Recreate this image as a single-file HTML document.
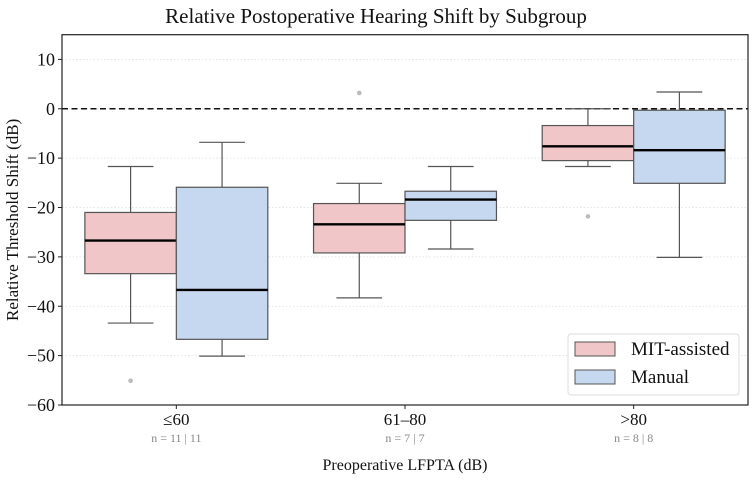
<!DOCTYPE html>
<html><head><meta charset="utf-8"><style>
body{margin:0;background:#fff}
text{font-family:"Liberation Serif",serif}
</style></head><body>
<svg id="chart" width="753" height="480" xmlns="http://www.w3.org/2000/svg"></svg>
<script>
const categories=["≤60","61–80",">80"];
const nLabels=["n = 11 | 11","n = 7 | 7","n = 8 | 8"];
const seriesNames=["MIT-assisted","Manual"];
const mitWhiskLo=[-43.4,-38.3,-11.7];
const mitQ1=[-33.4,-29.2,-10.5];
const mitMedian=[-26.7,-23.4,-7.6];
const mitQ3=[-21.0,-19.2,-3.4];
const mitWhiskHi=[-11.7,-15.1,0];
const mitOutliers=[[-55.1],[3.2],[-21.8]];
const manWhiskLo=[-50.1,-28.4,-30.1];
const manQ1=[-46.7,-22.6,-15.1];
const manMedian=[-36.7,-18.4,-8.4];
const manQ3=[-15.9,-16.7,-0.3];
const manWhiskHi=[-6.8,-11.7,3.4];
const manOutliers=[[],[],[]];
const yTicks=[10,0,-10,-20,-30,-40,-50,-60];

const L=62,R=748,T=34.7,B=405,ymin=-60,ymax=15;
const y=v=>B-(v-ymin)/(ymax-ymin)*(B-T);
const x=i=>L+(i+0.5)/3*(R-L);
const unit=(R-L)/3;
const svg=document.getElementById('chart');
const NS="http://www.w3.org/2000/svg";
function el(t,a,p){const e=document.createElementNS(NS,t);for(const k in a)e.setAttribute(k,a[k]);(p||svg).appendChild(e);return e;}

let t=el('text',{x:376,y:23,'text-anchor':'middle','font-size':21,fill:'#111'});t.textContent="Relative Postoperative Hearing Shift by Subgroup";



yTicks.forEach(v=>{
  const g=el('line',{x1:L,x2:R,y1:y(v),y2:y(v),stroke:'#ddd','stroke-width':0.8,'stroke-dasharray':'1.5 2'});
  
  
  el('line',{x1:L-4,x2:L,y1:y(v),y2:y(v),stroke:'#222','stroke-width':1});
  const tx=el('text',{x:L-7,y:y(v)+6,'text-anchor':'end','font-size':18,fill:'#111'});
  tx.textContent=v<0?'−'+Math.abs(v):String(v);
  
  
});
const zl=el('line',{x1:L,x2:R,y1:y(0),y2:y(0),stroke:'#111','stroke-width':1.6,'stroke-dasharray':'6 3.5'});



function drawBox(i,off,fill,lo,q1,med,q3,hi,outs,name){
  const g=el('g',{});
  
  
  const cx=x(i)+off*unit, w=0.4*unit, cw=0.2*unit;
  el('line',{x1:cx,x2:cx,y1:y(hi),y2:y(q3),stroke:'#555','stroke-width':1.2},g);
  el('line',{x1:cx,x2:cx,y1:y(q1),y2:y(lo),stroke:'#555','stroke-width':1.2},g);
  el('line',{x1:cx-cw/2,x2:cx+cw/2,y1:y(hi),y2:y(hi),stroke:'#555','stroke-width':1.2},g);
  el('line',{x1:cx-cw/2,x2:cx+cw/2,y1:y(lo),y2:y(lo),stroke:'#555','stroke-width':1.2},g);
  el('rect',{x:cx-w/2,y:y(q3),width:w,height:y(q1)-y(q3),fill:fill,stroke:'#555','stroke-width':1.2},g);
  el('line',{x1:cx-w/2,x2:cx+w/2,y1:y(med),y2:y(med),stroke:'#000','stroke-width':2.4},g);
  outs.forEach(o=>el('circle',{cx:cx,cy:y(o),r:2.3,fill:'#bbb'},g));
}
categories.forEach((c,i)=>{
  drawBox(i,-0.2,'#f0c6c8',mitWhiskLo[i],mitQ1[i],mitMedian[i],mitQ3[i],mitWhiskHi[i],mitOutliers[i],'mit-box-'+i);
  drawBox(i,0.2,'#c6d8ef',manWhiskLo[i],manQ1[i],manMedian[i],manQ3[i],manWhiskHi[i],manOutliers[i],'manual-box-'+i);
  el('line',{x1:x(i),x2:x(i),y1:B,y2:B+4,stroke:'#222','stroke-width':1});
  const tl=el('text',{x:x(i),y:425,'text-anchor':'middle','font-size':17,fill:'#111'});tl.textContent=c;
  
  
  const nl=el('text',{x:x(i),y:442,'text-anchor':'middle','font-size':12,fill:'#888'});nl.textContent=nLabels[i];
  
  
});
const fr=el('rect',{x:L,y:T,width:R-L,height:B-T,fill:'none',stroke:'#222','stroke-width':1.2});



const xl=el('text',{x:(L+R)/2,y:470,'text-anchor':'middle','font-size':16,fill:'#111'});xl.textContent="Preoperative LFPTA (dB)";


const yl=el('text',{x:0,y:0,'text-anchor':'middle','font-size':17,fill:'#111',transform:`translate(18,${(T+B)/2}) rotate(-90)`});yl.textContent="Relative Threshold Shift (dB)";



const lg=el('g',{});


el('rect',{x:568,y:334,width:171,height:61,rx:3,fill:'#fff','fill-opacity':0.9,stroke:'#ddd'},lg);
const fills=['#f0c6c8','#c6d8ef'];
seriesNames.forEach((s,k)=>{
  const e=el('g',{},lg);
  
  
  el('rect',{x:575,y:342+k*28,width:40,height:14,fill:fills[k],stroke:'#555','stroke-width':1},e);
  const lt=el('text',{x:631,y:355+k*28,'font-size':19,fill:'#111'},e);lt.textContent=s;
});
</script>
</body></html>
